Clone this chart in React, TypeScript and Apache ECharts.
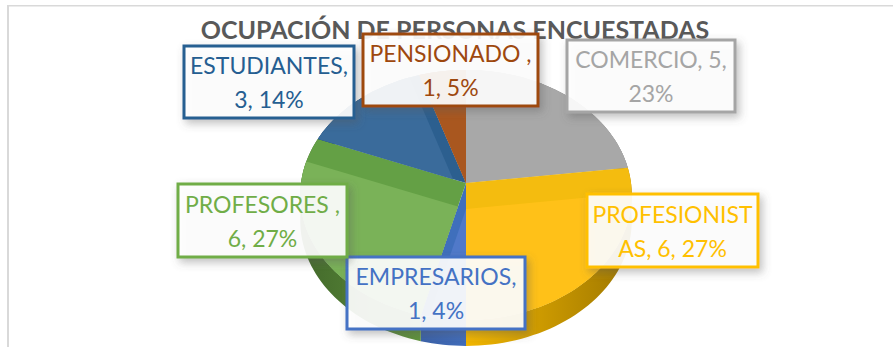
import React, { useEffect, useRef } from "react";
import * as echarts from "echarts";

const titleText = "OCUPACIÓN DE PERSONAS ENCUESTADAS";
const categories = ["COMERCIO", "PROFESIONISTAS", "EMPRESARIOS", "PROFESORES", "ESTUDIANTES", "PENSIONADO"];
const counts = [5, 6, 1, 6, 3, 1];
const shares = [23, 27, 4, 27, 14, 5];
const labelLines = [
  "COMERCIO, 5,\n23%",
  "PROFESIONIST\nAS, 6, 27%",
  "EMPRESARIOS,\n1, 4%",
  "PROFESORES ,\n6, 27%",
  "ESTUDIANTES,\n3, 14%",
  "PENSIONADO ,\n1, 5%",
];
const baseColors = ["#A5A5A5", "#FFC000", "#4472C4", "#70AD47", "#255E91", "#9E480E"];
const bandColors = ["#A4A4A4", "#F4BC0F", "#3F6FBC", "#64A045", "#2C5F8F", "#A5521C"];
const faceColors = ["#A8A8A8", "#FFC118", "#5079C9", "#7AB258", "#3A6B9B", "#A9571F"];
// label box: left, top, right, bottom
const labelBoxes = [
  [567, 40, 735, 112],
  [587, 194, 758, 267],
  [347, 257, 525, 329],
  [178, 184, 347, 257],
  [184, 46, 354, 118],
  [363, 34, 538, 106],
];

const CX = 466;
const CY = 183;
const A = 123.8;
const B = 165;
const K = 0.0956;
const SIDE = 26;
const BEVEL = 26;

type Pt = number[];

function project(deg: number): Pt {
  const t = (deg * Math.PI) / 180;
  const u = Math.sin(t);
  const v = Math.cos(t);
  const w = 1 + K * v;
  return [CX + (B * u) / w, CY - (A * v) / w];
}

function arc(from: number, to: number): Pt[] {
  const pts: Pt[] = [];
  const n = Math.max(2, Math.ceil((to - from) / 2));
  for (let i = 0; i <= n; i++) pts.push(project(from + ((to - from) * i) / n));
  return pts;
}

function clipConvex(subject: Pt[], clip: Pt[]): Pt[] {
  let out = subject;
  for (let i = 0; i < clip.length; i++) {
    const a = clip[i];
    const b = clip[(i + 1) % clip.length];
    const side = (p: Pt) => (b[0] - a[0]) * (p[1] - a[1]) - (b[1] - a[1]) * (p[0] - a[0]);
    const input = out;
    out = [];
    for (let j = 0; j < input.length; j++) {
      const p = input[j];
      const q = input[(j + 1) % input.length];
      const sp = side(p);
      const sq = side(q);
      if (sp >= 0) out.push(p);
      if (sp >= 0 !== sq >= 0) {
        const r = sp / (sp - sq);
        out.push([p[0] + (q[0] - p[0]) * r, p[1] + (q[1] - p[1]) * r]);
      }
    }
    if (!out.length) break;
  }
  return out;
}

function shade(hex: string, f: number): string {
  const n = parseInt(hex.slice(1), 16);
  const c = [(n >> 16) & 255, (n >> 8) & 255, n & 255].map((x) => Math.round(x * f));
  return `rgb(${c[0]},${c[1]},${c[2]})`;
}

function sliceRange(i: number): number[] {
  const total = shares.reduce((s, x) => s + x, 0);
  const before = shares.slice(0, i).reduce((s, x) => s + x, 0);
  return [(before / total) * 360, ((before + shares[i]) / total) * 360];
}

export default function App() {
  const ref = useRef<HTMLDivElement>(null);
  useEffect(() => {
    const chart = echarts.init(ref.current!, undefined, { renderer: "svg" });
    const data = categories.map((name, i) => ({ name, value: [counts[i], shares[i]] }));
    chart.setOption({
      animation: false,
      backgroundColor: "#FFFFFF",
      title: {
        text: titleText,
        left: 450,
        top: 11,
        textAlign: "center",
        z: 1,
        textStyle: { fontFamily: "Lato", fontWeight: "bold", fontSize: 25, color: "#595959" },
      },
      graphic: [
        { type: "rect", z: 0, shape: { x: 7, y: 5, width: 886, height: 1.5 }, style: { fill: "#D9D9D9" } },
        { type: "rect", z: 0, shape: { x: 7, y: 5, width: 2, height: 342 }, style: { fill: "#D9D9D9" } },
      ],
      series: [
        {
          type: "custom",
          coordinateSystem: "none",
          z: 2,
          silent: true,
          data,
          renderItem: (params: any) => {
            const i = params.dataIndex;
            const [from, to] = sliceRange(i);
            const top = arc(from, to);
            const bottom = top.map((p) => [p[0], p[1] + SIDE]).reverse();
            return {
              type: "polygon",
              shape: { points: [...top, ...bottom] },
              style: {
                fill: new echarts.graphic.LinearGradient(
                  CX - 166, 0, CX + 166, 0,
                  [
                    { offset: 0, color: shade(baseColors[i], 0.6) },
                    { offset: 0.5, color: shade(baseColors[i], 0.95) },
                    { offset: 1, color: shade(baseColors[i], 0.62) },
                  ],
                  true
                ),
              },
            };
          },
        },
        {
          type: "custom",
          coordinateSystem: "none",
          z: 3,
          silent: true,
          data,
          renderItem: (params: any) => {
            const i = params.dataIndex;
            const [from, to] = sliceRange(i);
            const rim = arc(from, to);
            const slice = [[CX, CY], ...rim];
            // lighter face: the wedge moved down, its rays carried well past the rim
            const far = [rim[0], rim[Math.floor(rim.length / 2)], rim[rim.length - 1]].map((p, j) => {
              const f = j === 1 ? 4 : 2.5;
              return [CX + (p[0] - CX) * f, CY + BEVEL + (p[1] - CY) * f];
            });
            const face = clipConvex(slice, [[CX, CY + BEVEL], ...far]);
            return {
              type: "group",
              children: [
                { type: "polygon", shape: { points: slice }, style: { fill: bandColors[i] } },
                { type: "polygon", shape: { points: face }, style: { fill: faceColors[i] } },
              ],
            };
          },
        },
        {
          type: "custom",
          coordinateSystem: "none",
          z: 4,
          silent: true,
          data,
          renderItem: (params: any) => {
            const i = params.dataIndex;
            const [l, t, r, b] = labelBoxes[i];
            return {
              type: "group",
              children: [
                {
                  type: "rect",
                  shape: { x: l, y: t, width: r - l, height: b - t },
                  style: {
                    fill: "rgba(255,255,255,0.9)",
                    stroke: baseColors[i],
                    lineWidth: 3,
                    shadowBlur: 9,
                    shadowOffsetX: 3,
                    shadowOffsetY: 4,
                    shadowColor: "rgba(90,90,90,0.4)",
                  },
                },
                {
                  type: "text",
                  style: {
                    text: labelLines[i],
                    x: (l + r) / 2,
                    y: (t + b) / 2,
                    align: "center",
                    verticalAlign: "middle",
                    lineHeight: 34,
                    fontFamily: "Lato",
                    fontSize: 23,
                    fill: baseColors[i],
                  },
                },
              ],
            };
          },
        },
      ],
    });
    return () => chart.dispose();
  }, []);
  return <div ref={ref} style={{ position: "absolute", left: 0, top: 0, width: 893, height: 347 }} />;
}
